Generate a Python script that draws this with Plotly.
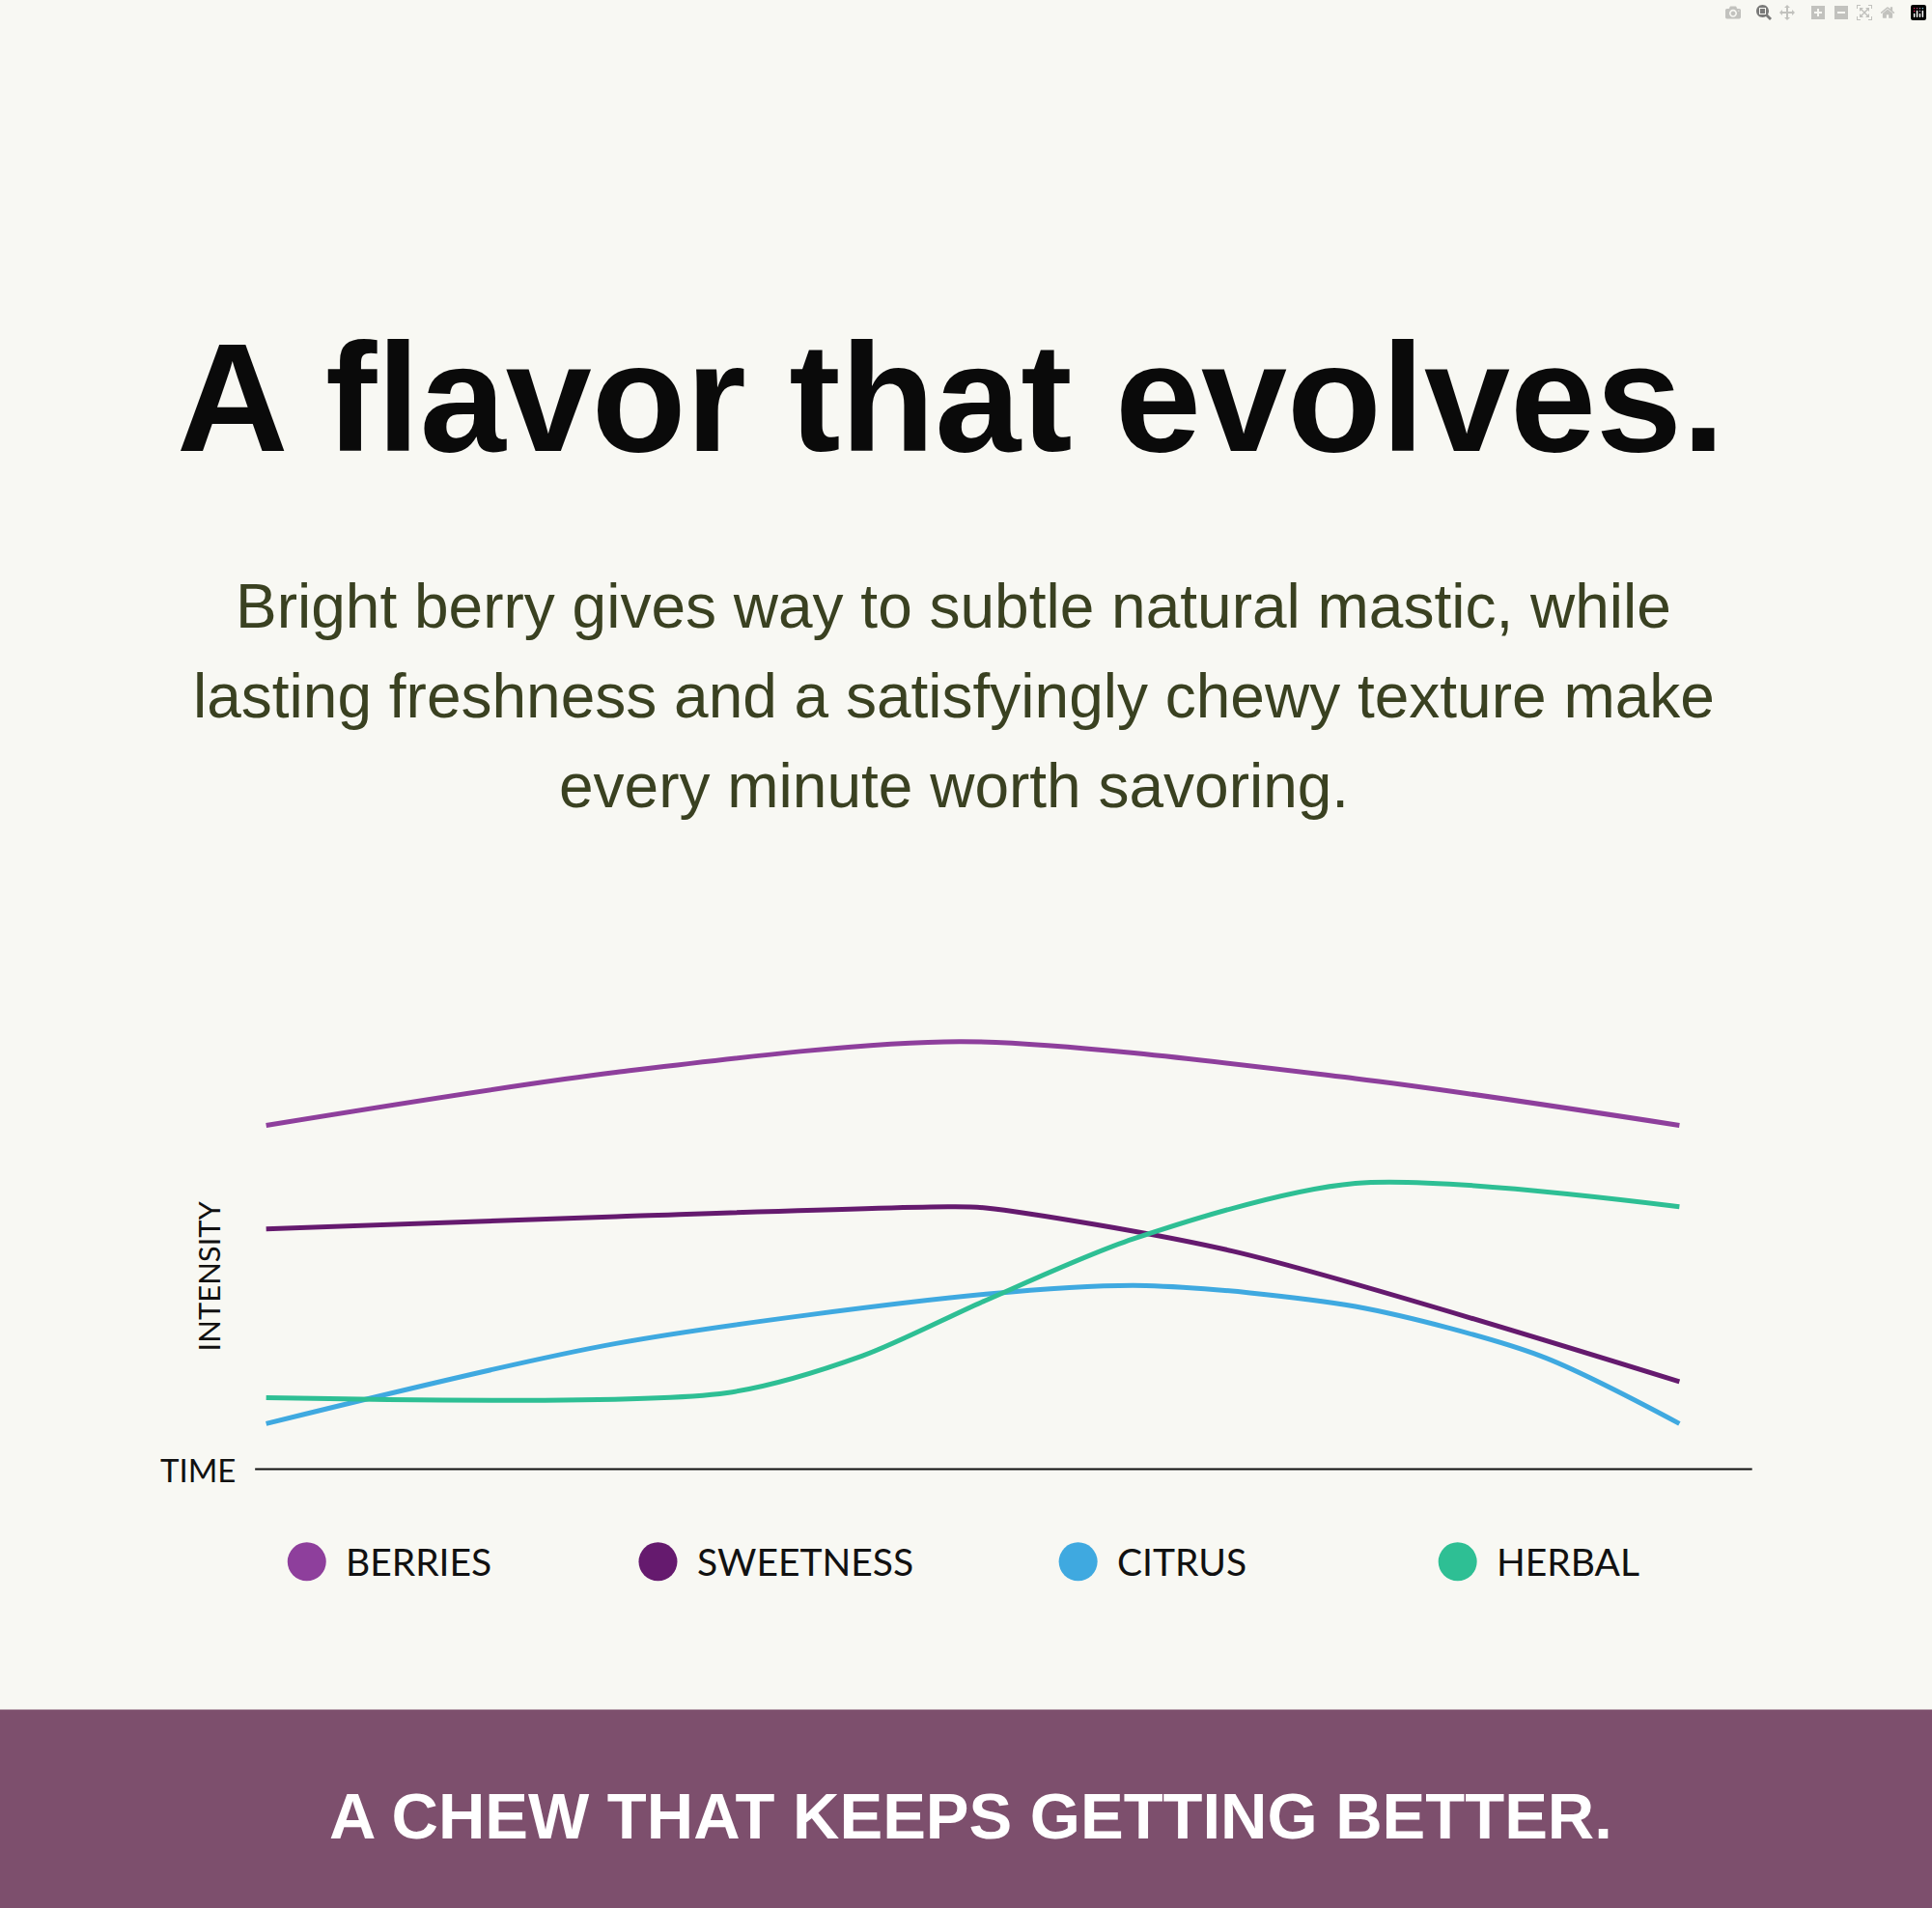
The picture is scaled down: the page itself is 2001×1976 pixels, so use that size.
import plotly.graph_objects as go

W, H = 2001, 1976

# data (time in layout units, intensity above the time axis)
berries_t = [216, 500, 780, 1100, 1363]
berries_v = [279, 322, 347, 317, 279]
sweet_t = [216, 500, 770, 800, 1000, 1363]
sweet_v = [195, 205, 213, 212, 177, 71]
citrus_t = [216, 500, 800, 930, 1100, 1250, 1363]
citrus_v = [37, 102, 142, 149, 132, 92, 37]
herbal_t = [216, 590, 700, 800, 920, 1100, 1363]
herbal_v = [58, 62, 92, 137, 187, 232, 213]

names = ["BERRIES", "SWEETNESS", "CITRUS", "HERBAL"]
colors = ["#8e3f9c", "#651a6e", "#3fa9e0", "#2ebf94"]
legend_x = [249, 534, 875, 1183]

subtitle = ["Bright berry gives way to subtle natural mastic, while",
            "lasting freshness and a satisfyingly chewy texture make",
            "every minute worth savoring."]
subtitle_y = [492, 565, 638]

def px(x):
    return x / 1568.0

def py(y):
    return 1 - y / 1548.0

def note(text, x, y, size, color="#111111", family="Liberation Sans", **kw):
    d = dict(text=text, x=px(x), y=py(y), xref="paper", yref="paper", showarrow=False,
             yanchor="middle", font=dict(family=family, size=size, color=color))
    d.update(kw)
    return d

fig = go.Figure()
for t, v, c, n in [(berries_t, berries_v, colors[0], names[0]),
                   (sweet_t, sweet_v, colors[1], names[1]),
                   (citrus_t, citrus_v, colors[2], names[2]),
                   (herbal_t, herbal_v, colors[3], names[3])]:
    fig.add_trace(go.Scatter(x=t, y=v, mode="lines", name=n,
                             line=dict(color=c, width=5, shape="spline", smoothing=0.8)))

shapes = [
    dict(type="rect", xref="paper", yref="paper", x0=0, x1=1, y0=0, y1=py(1387),
         fillcolor="#7d4f6d", line_width=0, layer="below"),
    dict(type="line", xref="paper", yref="paper", x0=px(207), x1=px(1422),
         y0=py(1192), y1=py(1192), line=dict(color="#111111", width=2)),
]
annotations = [
    note("<b>A flavor that evolves.</b>", 772, 322, 160, "#0a0a0a"),
    note("TIME", 193, 1192, 33, family="Lato", xanchor="right"),
    note("INTENSITY", 153, 1035, 31, family="Lato", textangle=-90),
    note("<b>A CHEW THAT KEEPS GETTING BETTER.</b>", 788, 1473, 67, "white"),
]
for line, y in zip(subtitle, subtitle_y):
    annotations.append(note(line, 774, y, 64, "#3a4121"))
for n, c, lx in zip(names, colors, legend_x):
    shapes.append(dict(type="circle", xref="paper", yref="paper", xsizemode="pixel",
                       ysizemode="pixel", xanchor=px(lx), yanchor=py(1267),
                       x0=-20, x1=20, y0=-20, y1=20, fillcolor=c, line_width=0))
    annotations.append(note(n, lx + 30, 1267, 39, family="Lato", xanchor="left"))

fig.update_layout(
    width=W, height=H, margin=dict(l=0, r=0, t=0, b=0),
    paper_bgcolor="#f8f8f3", plot_bgcolor="rgba(0,0,0,0)", showlegend=False,
    xaxis=dict(domain=[px(207), px(1422)], range=[207, 1422], visible=False),
    yaxis=dict(domain=[py(1192), py(800)], range=[0, 392], visible=False),
    shapes=shapes, annotations=annotations,
)
fig.write_html("out.html", post_script="document.body.style.margin='0';")
